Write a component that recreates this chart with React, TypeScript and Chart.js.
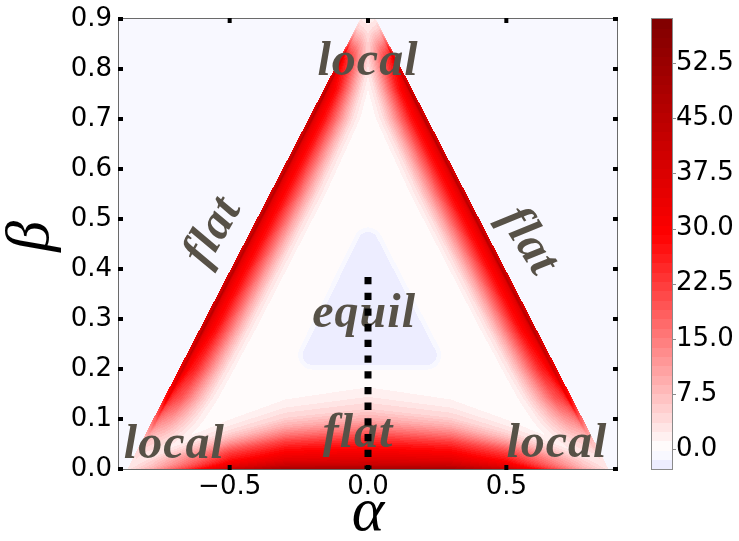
import React, { useEffect, useRef } from 'react';
import { Chart, registerables } from 'chart.js';

Chart.register(...registerables);

// ---- axes -------------------------------------------------------------
const ALPHA_TICKS = [-0.5, 0.0, 0.5];
const BETA_TICKS = [0.0, 0.1, 0.2, 0.3, 0.4, 0.5, 0.6, 0.7, 0.8, 0.9];
const COLORBAR_TICKS = [0.0, 7.5, 15.0, 22.5, 30.0, 37.5, 45.0, 52.5];
const ALPHA_LIMITS = [-0.9, 0.9];
const BETA_LIMITS = [0.0, 0.9];
const COLOR_LIMITS = [-2.7, 58.5];
const LEVEL_COUNT = 48;

// ---- simplex (α, β) domain ---------------------------------------------
const SIMPLEX_ALPHA = [-0.87, 0.0, 0.87];
const SIMPLEX_BETA = [0.0, 0.93, 0.0];
const OUTSIDE_VALUE = -0.8;
const INTERIOR_VALUE = 0.4;

// ridge along the two slanted edges: value vs. inward offset in α
const SIDE_OFFSET = [0, 0.006, 0.014, 0.022, 0.04, 0.065, 0.09, 0.115, 0.14, 0.17, 0.2, 0.23];
const SIDE_VALUE = [36, 40, 46, 36, 31, 27, 21, 15, 9.5, 4, 1.2, 0.3];
// strength of that ridge along β
const SIDE_ENV_BETA = [0.0, 0.03, 0.06, 0.1, 0.14, 0.2, 0.28, 0.76, 0.82, 0.84, 0.86, 0.88, 0.9];
const SIDE_ENV = [0.05, 0.1, 0.2, 0.45, 0.7, 0.9, 1.0, 1.0, 0.82, 0.6, 0.35, 0.15, 0.05];
// width of the ridge along β
const SIDE_WIDTH_BETA = [0.0, 0.55, 0.7, 0.8, 0.88, 0.93];
const SIDE_WIDTH = [1.0, 1.0, 0.92, 0.7, 0.45, 0.3];

// ridge along β = 0: value vs. β at the centre
const BOTTOM_HEIGHT = [0, 0.008, 0.02, 0.035, 0.05, 0.065, 0.08, 0.1, 0.12, 0.15, 0.18];
const BOTTOM_VALUE = [50, 42, 36, 31, 27, 22, 16, 9.5, 5, 1.8, 0.3];
// its thickness and strength across |α|
const BOTTOM_ALPHA = [0.0, 0.3, 0.5, 0.65, 0.78, 0.87];
const BOTTOM_SPREAD = [1.0, 0.85, 0.62, 0.45, 0.3, 0.18];
const BOTTOM_GAIN = [1.0, 1.0, 0.85, 0.5, 0.2, 0.06];

// equilibrium basin (core triangle, rounded outward)
const EQUIL_ALPHA = [-0.2, 0.0, 0.212];
const EQUIL_BETA = [0.228, 0.454, 0.228];
const EQUIL_VALUE = -2.4;

// dotted path at α = 0
const PATH_ALPHA = [0.0, 0.0];
const PATH_BETA = [0.384, 0.0];

// region annotations
const REGION_TEXT = ['local', 'local', 'local', 'flat', 'flat', 'flat', 'equil'];
const REGION_ALPHA = [0.0, -0.7, 0.683, -0.036, -0.52, 0.54, -0.014];
const REGION_BETA = [0.788, 0.022, 0.024, 0.044, 0.462, 0.442, 0.284];
const REGION_ANGLE = [0, 0, 0, 0, -60, 58, 0];

// ---- helpers ------------------------------------------------------------
const EQUIL_RADIUS = 11.5;
const EQUIL_SOFT = 5;
const TEXT_COLOR = '#575147';

function interp(xs: number[], ys: number[], x: number): number {
  if (x <= xs[0]) return ys[0];
  const n = xs.length - 1;
  if (x >= xs[n]) return ys[n];
  let i = 1;
  while (xs[i] < x) i++;
  const t = (x - xs[i - 1]) / (xs[i] - xs[i - 1]);
  return ys[i - 1] + t * (ys[i] - ys[i - 1]);
}

// matplotlib "seismic"
const SEISMIC = [
  [0, 0, 0.3],
  [0, 0, 1],
  [1, 1, 1],
  [1, 0, 0],
  [0.5, 0, 0],
];
function seismic(t: number): number[] {
  const u = Math.min(1, Math.max(0, t)) * 4;
  const i = Math.min(3, Math.floor(u));
  const f = u - i;
  const a = SEISMIC[i];
  const b = SEISMIC[i + 1];
  return [0, 1, 2].map((k) => Math.round(255 * (a[k] + f * (b[k] - a[k]))));
}

const LEVEL_STEP = (COLOR_LIMITS[1] - COLOR_LIMITS[0]) / LEVEL_COUNT;
const NORM = Math.max(Math.abs(COLOR_LIMITS[0]), Math.abs(COLOR_LIMITS[1]));
const LEVEL_COLORS: number[][] = [];
for (let k = 0; k < LEVEL_COUNT; k++) {
  const mid = COLOR_LIMITS[0] + (k + 0.5) * LEVEL_STEP;
  LEVEL_COLORS.push(seismic(0.5 + mid / (2 * NORM)));
}
function levelIndex(v: number): number {
  const k = Math.floor((v - COLOR_LIMITS[0]) / LEVEL_STEP);
  return Math.max(0, Math.min(LEVEL_COUNT - 1, k));
}

function segDist(px: number, py: number, ax: number, ay: number, bx: number, by: number) {
  const dx = bx - ax;
  const dy = by - ay;
  const t = Math.max(0, Math.min(1, ((px - ax) * dx + (py - ay) * dy) / (dx * dx + dy * dy)));
  const qx = ax + t * dx - px;
  const qy = ay + t * dy - py;
  return Math.sqrt(qx * qx + qy * qy);
}

function triDist(px: number, py: number, tri: number[][]) {
  let sign = 0;
  let inside = true;
  for (let i = 0; i < 3; i++) {
    const a = tri[i];
    const b = tri[(i + 1) % 3];
    const c = (b[0] - a[0]) * (py - a[1]) - (b[1] - a[1]) * (px - a[0]);
    const s = Math.sign(c);
    if (s !== 0) {
      if (sign === 0) sign = s;
      else if (s !== sign) inside = false;
    }
  }
  if (inside) return 0;
  let d = Infinity;
  for (let i = 0; i < 3; i++) {
    const a = tri[i];
    const b = tri[(i + 1) % 3];
    d = Math.min(d, segDist(px, py, a[0], a[1], b[0], b[1]));
  }
  return d;
}

function fieldValue(a: number, b: number, px: number, py: number, core: number[][]): number {
  const half = SIMPLEX_ALPHA[2];
  const apex = SIMPLEX_BETA[1];
  if (b > apex || b < 0) return OUTSIDE_VALUE;
  const w = half * (1 - b / apex);
  if (Math.abs(a) > w) return OUTSIDE_VALUE;

  const width = interp(SIDE_WIDTH_BETA, SIDE_WIDTH, b);
  const env = interp(SIDE_ENV_BETA, SIDE_ENV, b);
  const left = interp(SIDE_OFFSET, SIDE_VALUE, (a + w) / width) * env;
  const right = interp(SIDE_OFFSET, SIDE_VALUE, (w - a) / width) * env;

  const spread = interp(BOTTOM_ALPHA, BOTTOM_SPREAD, Math.abs(a));
  const gain = interp(BOTTOM_ALPHA, BOTTOM_GAIN, Math.abs(a));
  const bottom = interp(BOTTOM_HEIGHT, BOTTOM_VALUE, b / spread) * gain;

  let v = Math.max(INTERIOR_VALUE, left, right, bottom);

  const d = triDist(px, py, core);
  const wgt = Math.max(0, Math.min(1, (EQUIL_RADIUS + EQUIL_SOFT - d) / (2 * EQUIL_SOFT)));
  v = v * (1 - wgt) + EQUIL_VALUE * wgt;
  return v;
}

const fmt = (v: number) => Number(v).toFixed(1).replace('-', '\u2212');

// ---- plugins ------------------------------------------------------------
const heatmapPlugin = {
  id: 'heatmap',
  beforeDatasetsDraw(chart: any) {
    const { ctx, chartArea: area, scales } = chart;
    const xs = scales.x;
    const ys = scales.y;
    const w = Math.round(area.right - area.left);
    const h = Math.round(area.bottom - area.top);
    const off = document.createElement('canvas');
    off.width = w;
    off.height = h;
    const octx = off.getContext('2d')!;
    const img = octx.createImageData(w, h);
    const core = EQUIL_ALPHA.map((al, i) => [xs.getPixelForValue(al), ys.getPixelForValue(EQUIL_BETA[i])]);
    const alphas: number[] = [];
    for (let i = 0; i < w; i++) alphas.push(xs.getValueForPixel(area.left + i + 0.5));
    for (let j = 0; j < h; j++) {
      const py = area.top + j + 0.5;
      const b = ys.getValueForPixel(py);
      for (let i = 0; i < w; i++) {
        const px = area.left + i + 0.5;
        const v = fieldValue(alphas[i], b, px, py, core);
        const c = LEVEL_COLORS[levelIndex(v)];
        const o = (j * w + i) * 4;
        img.data[o] = c[0];
        img.data[o + 1] = c[1];
        img.data[o + 2] = c[2];
        img.data[o + 3] = 255;
      }
    }
    octx.putImageData(img, 0, 0);
    ctx.save();
    ctx.drawImage(off, area.left, area.top);

    // region annotations
    ctx.fillStyle = TEXT_COLOR;
    ctx.font = 'italic bold 48px "Liberation Serif"';
    (ctx as any).letterSpacing = '1px';
    ctx.textAlign = 'center';
    ctx.textBaseline = 'alphabetic';
    REGION_TEXT.forEach((t, i) => {
      ctx.save();
      ctx.translate(xs.getPixelForValue(REGION_ALPHA[i]), ys.getPixelForValue(REGION_BETA[i]));
      ctx.rotate((REGION_ANGLE[i] * Math.PI) / 180);
      ctx.fillText(t, 0, 0);
      ctx.restore();
    });
    ctx.restore();
  },
  afterDatasetsDraw(chart: any) {
    const { ctx, chartArea: area, scales } = chart;
    const xs = scales.x;
    const ys = scales.y;
    const cb = scales.cb;
    ctx.save();
    // frame
    ctx.strokeStyle = '#6a6a6a';
    ctx.lineWidth = 1;
    ctx.strokeRect(area.left - 0.5, area.top - 0.5, area.right - area.left + 1, area.bottom - area.top + 1);
    // inward ticks on all four sides
    ctx.fillStyle = '#000';
    ALPHA_TICKS.forEach((v) => {
      const p = xs.getPixelForValue(v);
      ctx.fillRect(p - 2, area.bottom - 4, 4, 5);
      ctx.fillRect(p - 2, area.top - 1, 4, 5);
    });
    BETA_TICKS.forEach((v) => {
      const p = ys.getPixelForValue(v);
      ctx.fillRect(area.left - 1, p - 2, 5, 4);
      ctx.fillRect(area.right - 4, p - 2, 5, 4);
    });

    // colour bar
    const x0 = cb.left + 35;
    const bw = 20;
    for (let k = 0; k < LEVEL_COUNT; k++) {
      const lo = COLOR_LIMITS[0] + k * LEVEL_STEP;
      const hi = lo + LEVEL_STEP;
      const y0 = cb.getPixelForValue(lo);
      const y1 = cb.getPixelForValue(hi);
      const c = LEVEL_COLORS[k];
      ctx.fillStyle = `rgb(${c[0]},${c[1]},${c[2]})`;
      ctx.fillRect(x0, Math.floor(y1), bw, Math.ceil(y0) - Math.floor(y1));
    }
    ctx.strokeStyle = '#8a8a8a';
    ctx.strokeRect(x0 - 0.5, cb.top - 0.5, bw + 1, cb.bottom - cb.top + 1);
    COLORBAR_TICKS.forEach((v) => {
      const p = Math.round(cb.getPixelForValue(v)) + 0.5;
      ctx.beginPath();
      ctx.moveTo(x0 + bw, p);
      ctx.lineTo(x0 + bw + 4, p);
      ctx.stroke();
    });
    ctx.restore();
  },
};

const tickFont = { family: '"DejaVu Sans"', size: 26, lineHeight: 1 };
const titleFont = { family: '"Liberation Serif"', style: 'italic' as const, size: 62, lineHeight: 0.8 };
// invisible tick marks, used only to offset the labels
const hiddenGrid = (len: number) => ({
  display: true,
  drawOnChartArea: false,
  drawTicks: true,
  tickLength: len,
  color: 'rgba(0,0,0,0)',
});

export default function App() {
  const ref = useRef<HTMLCanvasElement>(null);
  useEffect(() => {
    const chart = new Chart(ref.current!, {
      type: 'scatter',
      data: {
        datasets: [
          {
            data: PATH_ALPHA.map((a, i) => ({ x: a, y: PATH_BETA[i] })),
            showLine: true,
            borderColor: '#000',
            borderWidth: 7,
            borderDash: [7.3, 8.4],
            borderCapStyle: 'butt',
            pointRadius: 0,
          },
        ],
      },
      plugins: [heatmapPlugin],
      options: {
        responsive: false,
        animation: false,
        devicePixelRatio: 1,
        layout: { padding: { top: 19, left: 0, right: 0, bottom: 0 } },
        plugins: { legend: { display: false }, tooltip: { enabled: false } },
        scales: {
          x: {
            type: 'linear',
            position: 'bottom',
            min: ALPHA_LIMITS[0],
            max: ALPHA_LIMITS[1],
            afterFit: (s: any) => {
              s.height = 72;
            },
            afterBuildTicks: (s: any) => {
              s.ticks = ALPHA_TICKS.map((value) => ({ value }));
            },
            grid: hiddenGrid(2),
            border: { display: false },
            ticks: { color: '#000', font: tickFont, padding: 3, maxRotation: 0, autoSkip: false, callback: (v: any) => fmt(v) },
            title: { display: true, text: 'α', color: '#000', font: titleFont, padding: { top: 0, bottom: 2 } },
          },
          y: {
            type: 'linear',
            position: 'left',
            min: BETA_LIMITS[0],
            max: BETA_LIMITS[1],
            afterFit: (s: any) => {
              s.width = 119;
            },
            afterBuildTicks: (s: any) => {
              s.ticks = BETA_TICKS.map((value) => ({ value }));
            },
            grid: hiddenGrid(3),
            border: { display: false },
            ticks: { color: '#000', font: tickFont, padding: 4, autoSkip: false, callback: (v: any) => fmt(v) },
            title: { display: true, text: ' β', color: '#000', font: titleFont, padding: { top: 7, bottom: 0 } },
          },
          cb: {
            type: 'linear',
            position: 'right',
            min: COLOR_LIMITS[0],
            max: COLOR_LIMITS[1],
            afterFit: (s: any) => {
              s.width = 122;
            },
            afterBuildTicks: (s: any) => {
              s.ticks = COLORBAR_TICKS.map((value) => ({ value }));
            },
            grid: hiddenGrid(55),
            border: { display: false },
            ticks: { color: '#000', font: tickFont, padding: 4, autoSkip: false, callback: (v: any) => fmt(v) },
          },
        },
      },
    } as any);
    return () => chart.destroy();
  }, []);
  return (
    <div style={{ position: 'fixed', left: 0, top: 0, width: 739, height: 541, background: '#fff' }}>
      <canvas ref={ref} width={739} height={541} style={{ display: 'block', width: 739, height: 541 }} />
    </div>
  );
}
